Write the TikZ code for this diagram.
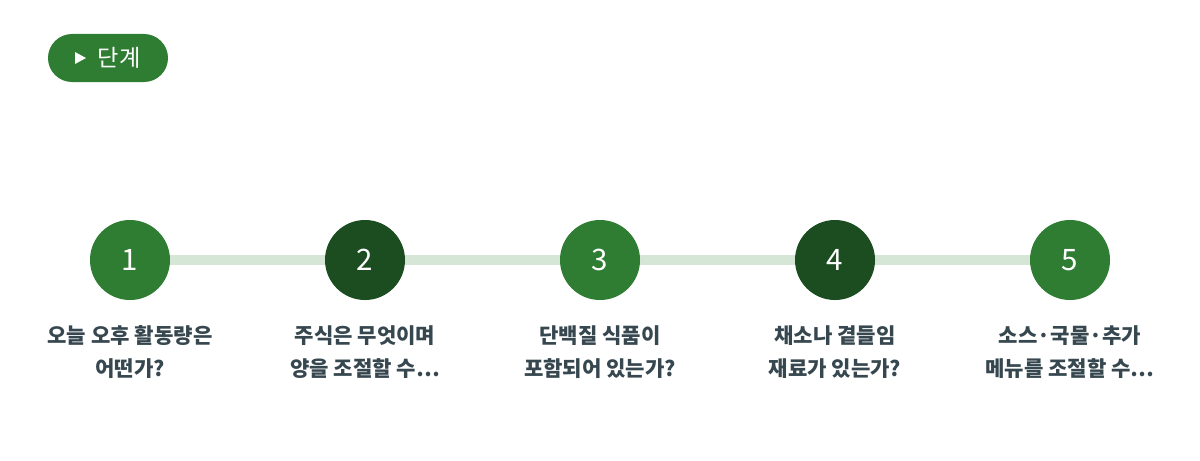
\documentclass[tikz,border=0pt]{standalone}
\usepackage{fontspec}
\setmainfont{Noto Sans CJK KR}
\usetikzlibrary{positioning}
\definecolor{stepgreen}{HTML}{2E7D32}
\definecolor{stepdark}{HTML}{1B4D20}
\definecolor{steptrack}{HTML}{D6E6D6}
\definecolor{steptext}{HTML}{37474F}
\tikzset{
  stepnode/.style={circle, minimum size=2cm, inner sep=0pt, text=white, font=\fontsize{21}{21}\selectfont},
  steplabel/.style={below=0.5cm of #1, align=center, text=steptext, font=\fontsize{15}{24}\selectfont\bfseries},
}
\begin{document}
\begin{tikzpicture}[x=0.025cm,y=-0.025cm]
    \useasboundingbox (0,0) rectangle (1200,460);
    % Etiqueta
    \node[fill=stepgreen, rounded corners=0.6cm, minimum width=3cm, minimum height=1.2cm] (badge) at (108,58) {};
    \fill[white] (75,52) -- (75,64) -- (86,58) -- cycle;
    \node[text=white, font=\fontsize{16.5}{16.5}\selectfont, anchor=west] (badgetext) at (93,58) {단계};
    % Linea de fondo
    \draw[steptrack, line width=0.25cm] (130,260) -- (1070,260);
    % Pasos
    \node[stepnode, fill=stepgreen] (s1) at (130,260) {1};
    \node[stepnode, fill=stepdark]  (s2) at (365,260) {2};
    \node[stepnode, fill=stepgreen] (s3) at (600,260) {3};
    \node[stepnode, fill=stepdark]  (s4) at (835,260) {4};
    \node[stepnode, fill=stepgreen] (s5) at (1070,260) {5};
    % Textos
    \node[steplabel=s1] (t1) {오늘 오후 활동량은\\어떤가?};
    \node[steplabel=s2] (t2) {주식은 무엇이며\\양을 조절할 수…};
    \node[steplabel=s3] (t3) {단백질 식품이\\포함되어 있는가?};
    \node[steplabel=s4] (t4) {채소나 곁들임\\재료가 있는가?};
    \node[steplabel=s5] (t5) {소스·국물·추가\\메뉴를 조절할 수…};
\end{tikzpicture}
\end{document}
